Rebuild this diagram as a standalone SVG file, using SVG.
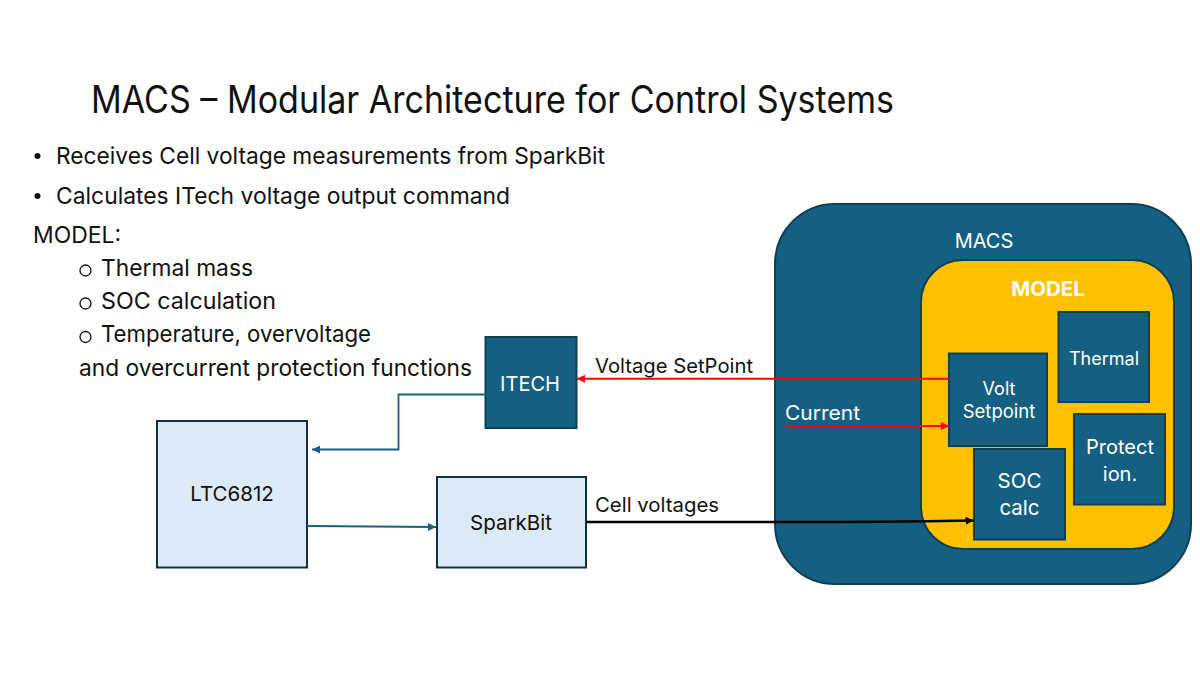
<svg xmlns="http://www.w3.org/2000/svg" width="1200" height="675" viewBox="0 0 1200 675">
<style>
text{font-family:"Inter","Open Sans","Liberation Sans",sans-serif;fill:#111}
.w{fill:#fff;text-anchor:middle}
.c{text-anchor:middle}
.d{fill:#156082;stroke:#0f3f55;stroke-width:2}
.l{fill:#dce9f6;stroke:#12303f;stroke-width:2}
.t{font-size:23px}
.n{font-size:20px}
</style>
<defs>
<marker id="ar" markerUnits="userSpaceOnUse" markerWidth="9" markerHeight="8" refX="8" refY="4" orient="auto"><path d="M0 0L8 4L0 8Z" fill="#f00"/></marker>
<marker id="ab" markerUnits="userSpaceOnUse" markerWidth="9" markerHeight="8" refX="8" refY="4" orient="auto"><path d="M0 0L8 4L0 8Z" fill="#000"/></marker>
<marker id="at" markerUnits="userSpaceOnUse" markerWidth="9" markerHeight="8" refX="8" refY="4" orient="auto"><path d="M0 0L8 4L0 8Z" fill="#156082"/></marker>
</defs>
<rect width="1200" height="675" fill="#fff"/>
<text x="91" y="113" font-size="38" textLength="803" lengthAdjust="spacingAndGlyphs">MACS – Modular Architecture for Control Systems</text>
<g id="bullets">
<circle cx="37.500" cy="156" r="3" fill="#111"/><circle cx="37.500" cy="196" r="3" fill="#111"/>
<text class="t" x="56" y="164" textLength="549" lengthAdjust="spacingAndGlyphs">Receives Cell voltage measurements from SparkBit</text>
<text class="t" x="56" y="204" textLength="454" lengthAdjust="spacingAndGlyphs">Calculates ITech voltage output command</text>
<text class="t" x="33" y="243" textLength="88" lengthAdjust="spacingAndGlyphs">MODEL:</text>
<circle cx="85.500" cy="270.500" r="5.500" fill="none" stroke="#111" stroke-width="1.300"/>
<circle cx="85.500" cy="303.500" r="5.500" fill="none" stroke="#111" stroke-width="1.300"/>
<circle cx="85.500" cy="337" r="5.500" fill="none" stroke="#111" stroke-width="1.300"/>
<text class="t" x="101" y="276" textLength="152" lengthAdjust="spacingAndGlyphs">Thermal mass</text>
<text class="t" x="101" y="309" textLength="175" lengthAdjust="spacingAndGlyphs">SOC calculation</text>
<text class="t" x="101" y="342" textLength="270" lengthAdjust="spacingAndGlyphs">Temperature, overvoltage</text>
<text class="t" x="79" y="376" textLength="393" lengthAdjust="spacingAndGlyphs">and overcurrent protection functions</text>
</g>
<g id="macs"><rect class="d" x="775" y="204" width="416" height="380" rx="60"/><text class="w" x="984" y="248" font-size="20">MACS</text></g>
<g id="model"><rect x="921" y="260" width="253" height="289" rx="42" fill="#ffc000" stroke="#0f3f55" stroke-width="2"/><text class="w" x="1048" y="296" font-size="20.500" font-weight="700">MODEL</text></g>
<g id="thermal"><rect class="d" x="1058.500" y="312" width="90.500" height="90"/><text class="w" x="1104" y="365" font-size="18">Thermal</text></g>
<g id="volt"><rect class="d" x="949" y="353.500" width="98" height="92.500"/><text class="w" x="999" y="395" font-size="18">Volt</text><text class="w" x="999" y="418" font-size="18.500">Setpoint</text></g>
<g id="protection"><rect class="d" x="1074" y="414" width="91" height="90.500"/><text class="w" x="1120" y="454" font-size="20">Protect</text><text class="w" x="1120" y="481" font-size="20">ion.</text></g>
<g id="soc"><rect class="d" x="974" y="449" width="91" height="90.500"/><text class="w" x="1019.500" y="488" font-size="20.500">SOC</text><text class="w" x="1019.500" y="515" font-size="20.500">calc</text></g>
<g id="itech"><rect class="d" x="485.500" y="337" width="91" height="91"/><text class="w" x="530" y="391" font-size="20">ITECH</text></g>
<g id="ltc"><rect class="l" x="157" y="421" width="150" height="146.500"/><text class="c" x="232" y="501" font-size="20.500">LTC6812</text></g>
<g id="sparkbit"><rect class="l" x="437" y="477" width="149" height="90.500"/><text class="c" x="511" y="530" font-size="20.500">SparkBit</text></g>
<g id="connectors" fill="none">
<path d="M949 378.800H577" stroke="#f00" stroke-width="2" marker-end="url(#ar)"/>
<path d="M786 426H949" stroke="#f00" stroke-width="1.800" marker-end="url(#ar)"/>
<path d="M586 522H780Q880 522 973.500 520.500" stroke="#000" stroke-width="2.400" marker-end="url(#ab)"/>
<path d="M485.500 394.500H398.500V449.500H312" stroke="#156082" stroke-width="1.800" marker-end="url(#at)"/>
<path d="M307 526L436 527" stroke="#156082" stroke-width="1.800" marker-end="url(#at)"/>
</g>
<g id="labels">
<text class="n" x="595" y="373" textLength="158" lengthAdjust="spacingAndGlyphs">Voltage SetPoint</text>
<text x="785" y="420" font-size="20" style="fill:#fff" textLength="75" lengthAdjust="spacingAndGlyphs">Current</text>
<text class="n" x="595" y="512" textLength="124" lengthAdjust="spacingAndGlyphs">Cell voltages</text>
</g>
</svg>
